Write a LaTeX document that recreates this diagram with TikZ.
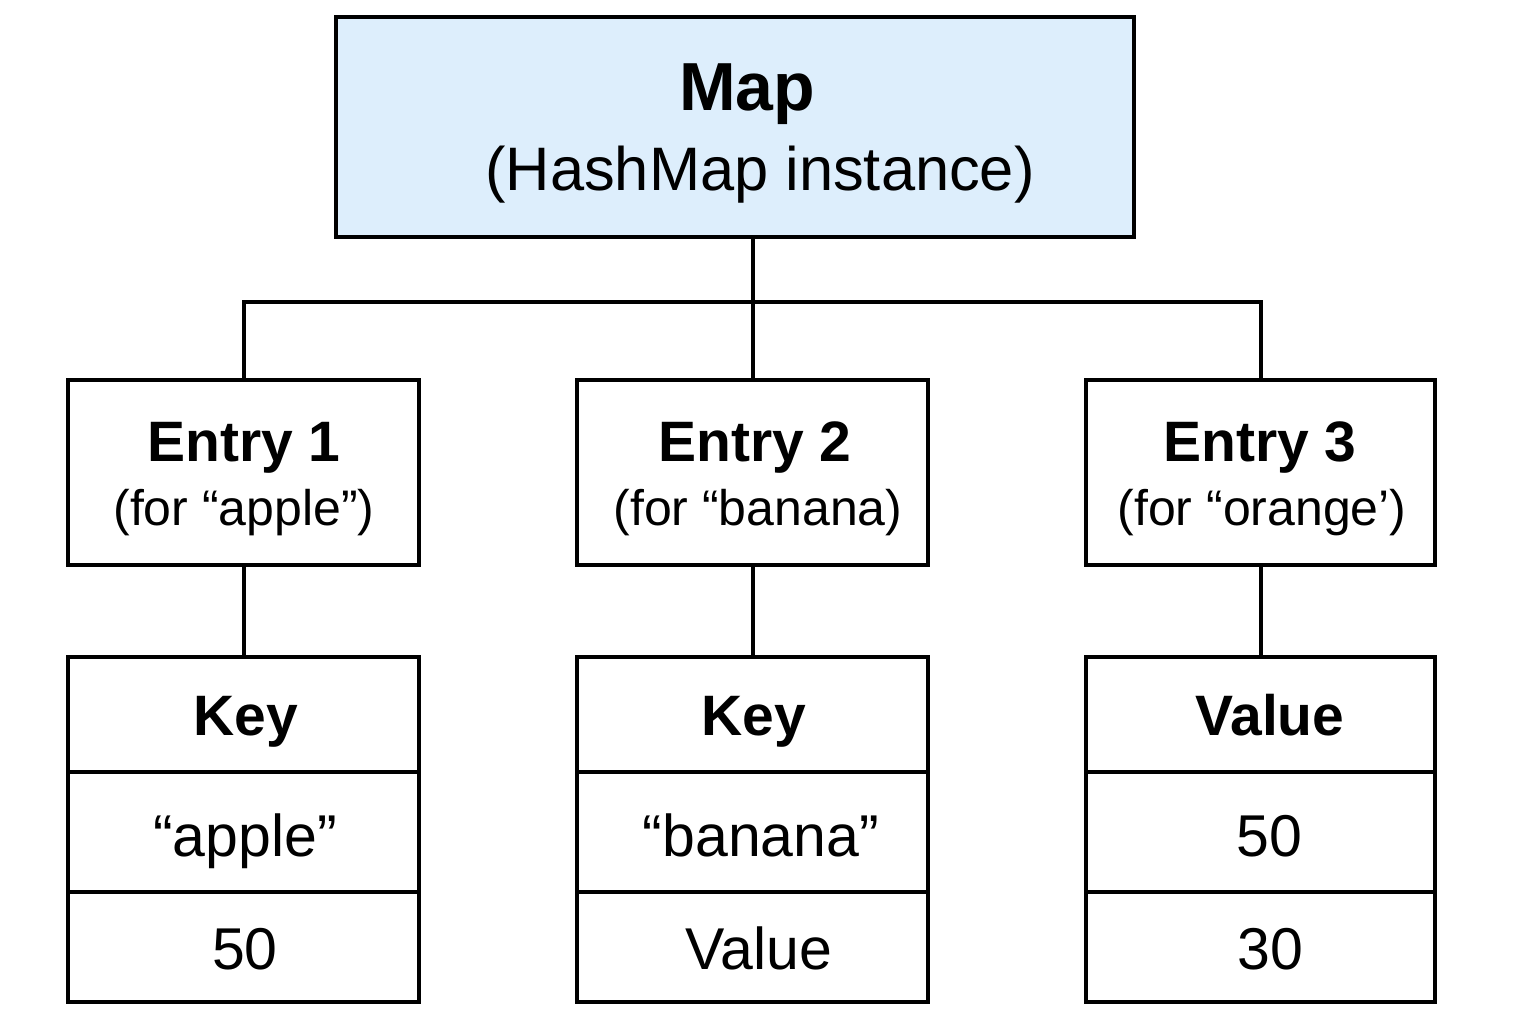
\documentclass[tikz,border=0pt]{standalone}
\usepackage{fontspec}
\setmainfont{Liberation Sans}
\definecolor{mapblue}{HTML}{DDEEFC}
\begin{document}
\begin{tikzpicture}[x=0.5pt,y=-0.5pt,
  box/.style={draw=black,line width=2pt,inner sep=0pt,outer sep=0pt},
  ttl/.style={anchor=base,inner sep=0pt,font=\bfseries\fontsize{28.5}{30}\selectfont},
  sub/.style={anchor=base,inner sep=0pt,font=\fontsize{25}{28}\selectfont},
  dat/.style={anchor=base,inner sep=0pt,font=\fontsize{29.5}{32}\selectfont},
  conn/.style={line width=2pt,line cap=rect}]
\useasboundingbox (0,0) rectangle (1536,1024);
% boxes
\node[box,fill=mapblue,minimum width=399pt,minimum height=110pt] (map) at (735,127) {};
\node[box,minimum width=175.5pt,minimum height=92.5pt] (e1) at (243.5,472.5) {};
\node[box,minimum width=175.5pt,minimum height=92.5pt] (e2) at (752.5,472.5) {};
\node[box,minimum width=174.5pt,minimum height=92.5pt] (e3) at (1260.5,472.5) {};
\node[box,minimum width=175.5pt,minimum height=172.5pt] (l1) at (243.5,829.5) {};
\node[box,minimum width=175.5pt,minimum height=172.5pt] (l2) at (752.5,829.5) {};
\node[box,minimum width=174.5pt,minimum height=172.5pt] (l3) at (1260.5,829.5) {};
% dividers
\foreach \n in {l1,l2,l3}{
  \draw[line width=2pt] (\n.west |- 0,772) -- (\n.east |- 0,772);
  \draw[line width=2pt] (\n.west |- 0,892) -- (\n.east |- 0,892);
}
% connectors
\coordinate (junc) at (752.5,302);
\draw[line width=2pt] (map.south -| e2.north) -- (e2.north);
\draw[line width=2pt] (e1.north) -- (e1.north |- junc) -- (e3.north |- junc) -- (e3.north);
\draw[line width=2pt] (e1.south) -- (l1.north);
\draw[line width=2pt] (e2.south) -- (l2.north);
\draw[line width=2pt] (e3.south) -- (l3.north);
% texts
\node[anchor=base,inner sep=0pt,font=\bfseries\fontsize{34}{36}\selectfont] (tmap) at (747,110) {Map};
\node[anchor=base,inner sep=0pt,font=\fontsize{30.7}{33}\selectfont] (tmap2) at (760,190) {(HashMap instance)};
\node[ttl] (te1) at (244,461) {Entry 1};
\node[sub] (se1) at (244,525) {(for “apple”)};
\node[ttl] (te2) at (755,461) {Entry 2};
\node[sub] (se2) at (758,525) {(for “banana)};
\node[ttl] (te3) at (1260,461) {Entry 3};
\node[sub] (se3) at (1262,525) {(for “orange’)};
\node[ttl] (k1) at (246,735) {Key};
\node[dat] (a1) at (245,856) {“apple”};
\node[dat] (b1) at (245,969) {50};
\node[ttl] (k2) at (754,735) {Key};
\node[dat] (a2) at (761,856) {“banana”};
\node[dat] (b2) at (759,969) {Value};
\node[ttl] (k3) at (1270,735) {Value};
\node[dat] (a3) at (1269,856) {50};
\node[dat] (b3) at (1270,969) {30};
\end{tikzpicture}
\end{document}
